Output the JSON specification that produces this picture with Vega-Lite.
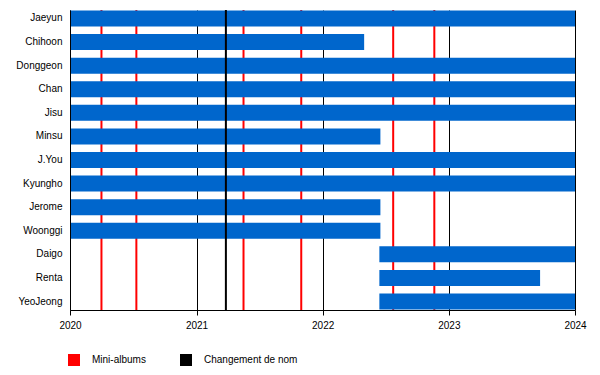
{
  "$schema": "https://vega.github.io/schema/vega-lite/v6.json",
  "width": 505,
  "height": 300,
  "autosize": "none",
  "padding": {"left": 70, "top": 10, "right": 25, "bottom": 65},
  "background": "white",
  "config": {"view": {"stroke": null}, "font": "Liberation Sans"},
  "datasets": {
    "members": [
      {"name": "Jaeyun", "start": "2020-01-01", "end": "2024-01-01"},
      {"name": "Chihoon", "start": "2020-01-01", "end": "2022-05-01"},
      {"name": "Donggeon", "start": "2020-01-01", "end": "2024-01-01"},
      {"name": "Chan", "start": "2020-01-01", "end": "2024-01-01"},
      {"name": "Jisu", "start": "2020-01-01", "end": "2024-01-01"},
      {"name": "Minsu", "start": "2020-01-01", "end": "2022-06-17"},
      {"name": "J.You", "start": "2020-01-01", "end": "2024-01-01"},
      {"name": "Kyungho", "start": "2020-01-01", "end": "2024-01-01"},
      {"name": "Jerome", "start": "2020-01-01", "end": "2022-06-17"},
      {"name": "Woonggi", "start": "2020-01-01", "end": "2022-06-17"},
      {"name": "Daigo", "start": "2022-06-14", "end": "2024-01-01"},
      {"name": "Renta", "start": "2022-06-14", "end": "2023-09-22"},
      {"name": "YeoJeong", "start": "2022-06-14", "end": "2024-01-01"}
    ],
    "events": [
      {"type": "Mini-albums", "date": "2020-04-01"},
      {"type": "Mini-albums", "date": "2020-07-11"},
      {"type": "Mini-albums", "date": "2021-05-17"},
      {"type": "Mini-albums", "date": "2021-10-31"},
      {"type": "Mini-albums", "date": "2022-07-24"},
      {"type": "Mini-albums", "date": "2022-11-20"},
      {"type": "Changement de nom", "date": "2021-03-27"}
    ]
  },
  "layer": [
    {
      "data": {"name": "events"},
      "transform": [{"filter": "datum.type === 'Mini-albums'"}],
      "mark": {"type": "rule", "strokeWidth": 2},
      "encoding": {
        "x": {
          "field": "date",
          "type": "temporal",
          "scale": {"type": "utc", "domain": [{"year": 2020, "month": 1, "date": 1, "utc": true}, {"year": 2024, "month": 1, "date": 1, "utc": true}]},
          "axis": {
            "title": null,
            "format": "%Y",
            "tickCount": {"interval": "year", "step": 1},
            "grid": true,
            "gridColor": "#000000",
            "gridOpacity": 1,
            "gridWidth": 1,
            "domainColor": "#000000",
            "domainWidth": 1,
            "tickColor": "#000000",
            "tickSize": 5,
            "labelColor": "#000000",
            "labelFontSize": 10,
            "labelPadding": 5,
            "labelFlush": false
          }
        },
        "color": {
          "field": "type",
          "type": "nominal",
          "scale": {"domain": ["Mini-albums", "Changement de nom"], "range": ["#ff0000", "#000000"]},
          "legend": {
            "title": null,
            "orient": "none",
            "legendX": -2,
            "legendY": 344,
            "direction": "horizontal",
            "symbolType": "square",
            "symbolSize": 144,
            "symbolStrokeWidth": 0,
            "labelFontSize": 10,
            "labelColor": "#000000",
            "labelOffset": 12,
            "columnPadding": 34,
            "encode": {"symbols": {"update": {"fill": {"scale": "color", "field": "value"}, "opacity": {"value": 1}}}}
          }
        }
      }
    },
    {
      "data": {"name": "members"},
      "mark": {"type": "bar", "color": "#0066cc"},
      "encoding": {
        "y": {
          "field": "name",
          "type": "nominal",
          "sort": null,
          "scale": {"paddingInner": 0.32, "paddingOuter": 0.02},
          "axis": {
            "title": null,
            "ticks": false,
            "domainColor": "#000000",
            "domainWidth": 1,
            "labelColor": "#000000",
            "labelFontSize": 10,
            "labelPadding": 8,
            "zindex": 1
          }
        },
        "x": {"field": "start", "type": "temporal"},
        "x2": {"field": "end"}
      }
    },
    {
      "data": {"name": "events"},
      "transform": [{"filter": "datum.type === 'Changement de nom'"}],
      "mark": {"type": "rule", "strokeWidth": 2},
      "encoding": {
        "x": {"field": "date", "type": "temporal"},
        "color": {"field": "type", "type": "nominal"}
      }
    }
  ]
}
